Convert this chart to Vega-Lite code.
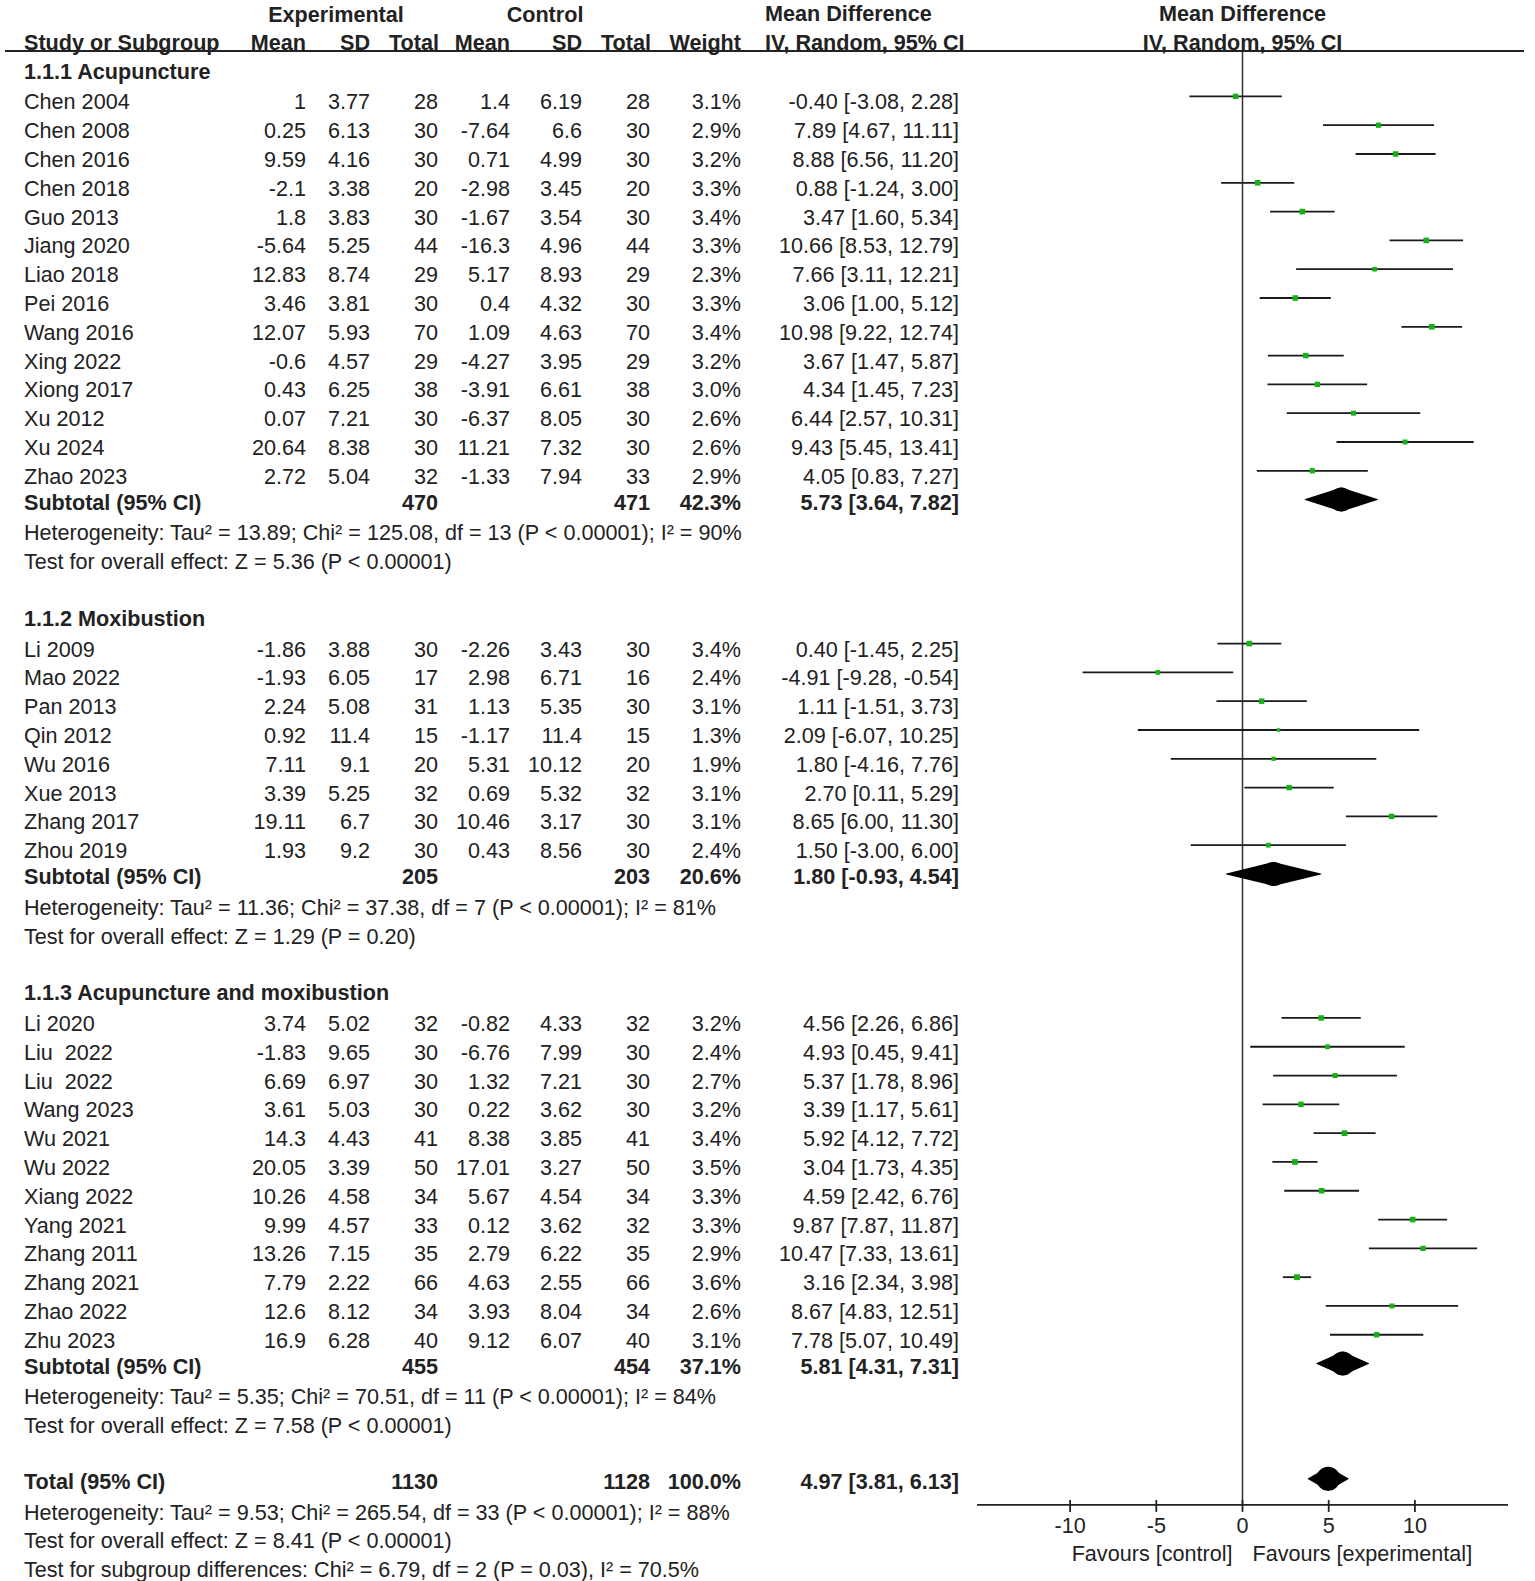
{
"$schema": "https://vega.github.io/schema/vega-lite/v6.json",
"width": 1535, "height": 1581, "padding": 0, "autosize": {"type": "none"}, "background": "white",
"config": {"view": {"stroke": null}, "text": {"font": "Liberation Sans", "fontSize": 21.6, "color": "#222", "baseline": "middle"}},
"datasets": {
"studies": [
{"study":"Chen 2004","row":1,"em":1,"esd":3.77,"et":28,"cm":1.4,"csd":6.19,"ct":28,"wt":0.031,"md":-0.4,"lo":-3.08,"hi":2.28,"ci":"-0.40 [-3.08, 2.28]"},
{"study":"Chen 2008","row":2,"em":0.25,"esd":6.13,"et":30,"cm":-7.64,"csd":6.6,"ct":30,"wt":0.029,"md":7.89,"lo":4.67,"hi":11.11,"ci":"7.89 [4.67, 11.11]"},
{"study":"Chen 2016","row":3,"em":9.59,"esd":4.16,"et":30,"cm":0.71,"csd":4.99,"ct":30,"wt":0.032,"md":8.88,"lo":6.56,"hi":11.2,"ci":"8.88 [6.56, 11.20]"},
{"study":"Chen 2018","row":4,"em":-2.1,"esd":3.38,"et":20,"cm":-2.98,"csd":3.45,"ct":20,"wt":0.033,"md":0.88,"lo":-1.24,"hi":3.0,"ci":"0.88 [-1.24, 3.00]"},
{"study":"Guo 2013","row":5,"em":1.8,"esd":3.83,"et":30,"cm":-1.67,"csd":3.54,"ct":30,"wt":0.034,"md":3.47,"lo":1.6,"hi":5.34,"ci":"3.47 [1.60, 5.34]"},
{"study":"Jiang 2020","row":6,"em":-5.64,"esd":5.25,"et":44,"cm":-16.3,"csd":4.96,"ct":44,"wt":0.033,"md":10.66,"lo":8.53,"hi":12.79,"ci":"10.66 [8.53, 12.79]"},
{"study":"Liao 2018","row":7,"em":12.83,"esd":8.74,"et":29,"cm":5.17,"csd":8.93,"ct":29,"wt":0.023,"md":7.66,"lo":3.11,"hi":12.21,"ci":"7.66 [3.11, 12.21]"},
{"study":"Pei 2016","row":8,"em":3.46,"esd":3.81,"et":30,"cm":0.4,"csd":4.32,"ct":30,"wt":0.033,"md":3.06,"lo":1.0,"hi":5.12,"ci":"3.06 [1.00, 5.12]"},
{"study":"Wang 2016","row":9,"em":12.07,"esd":5.93,"et":70,"cm":1.09,"csd":4.63,"ct":70,"wt":0.034,"md":10.98,"lo":9.22,"hi":12.74,"ci":"10.98 [9.22, 12.74]"},
{"study":"Xing 2022","row":10,"em":-0.6,"esd":4.57,"et":29,"cm":-4.27,"csd":3.95,"ct":29,"wt":0.032,"md":3.67,"lo":1.47,"hi":5.87,"ci":"3.67 [1.47, 5.87]"},
{"study":"Xiong 2017","row":11,"em":0.43,"esd":6.25,"et":38,"cm":-3.91,"csd":6.61,"ct":38,"wt":0.030,"md":4.34,"lo":1.45,"hi":7.23,"ci":"4.34 [1.45, 7.23]"},
{"study":"Xu 2012","row":12,"em":0.07,"esd":7.21,"et":30,"cm":-6.37,"csd":8.05,"ct":30,"wt":0.026,"md":6.44,"lo":2.57,"hi":10.31,"ci":"6.44 [2.57, 10.31]"},
{"study":"Xu 2024","row":13,"em":20.64,"esd":8.38,"et":30,"cm":11.21,"csd":7.32,"ct":30,"wt":0.026,"md":9.43,"lo":5.45,"hi":13.41,"ci":"9.43 [5.45, 13.41]"},
{"study":"Zhao 2023","row":14,"em":2.72,"esd":5.04,"et":32,"cm":-1.33,"csd":7.94,"ct":33,"wt":0.029,"md":4.05,"lo":0.83,"hi":7.27,"ci":"4.05 [0.83, 7.27]"},
{"study":"Li 2009","row":20,"em":-1.86,"esd":3.88,"et":30,"cm":-2.26,"csd":3.43,"ct":30,"wt":0.034,"md":0.4,"lo":-1.45,"hi":2.25,"ci":"0.40 [-1.45, 2.25]"},
{"study":"Mao 2022","row":21,"em":-1.93,"esd":6.05,"et":17,"cm":2.98,"csd":6.71,"ct":16,"wt":0.024,"md":-4.91,"lo":-9.28,"hi":-0.54,"ci":"-4.91 [-9.28, -0.54]"},
{"study":"Pan 2013","row":22,"em":2.24,"esd":5.08,"et":31,"cm":1.13,"csd":5.35,"ct":30,"wt":0.031,"md":1.11,"lo":-1.51,"hi":3.73,"ci":"1.11 [-1.51, 3.73]"},
{"study":"Qin 2012","row":23,"em":0.92,"esd":11.4,"et":15,"cm":-1.17,"csd":11.4,"ct":15,"wt":0.013,"md":2.09,"lo":-6.07,"hi":10.25,"ci":"2.09 [-6.07, 10.25]"},
{"study":"Wu 2016","row":24,"em":7.11,"esd":9.1,"et":20,"cm":5.31,"csd":10.12,"ct":20,"wt":0.019,"md":1.8,"lo":-4.16,"hi":7.76,"ci":"1.80 [-4.16, 7.76]"},
{"study":"Xue 2013","row":25,"em":3.39,"esd":5.25,"et":32,"cm":0.69,"csd":5.32,"ct":32,"wt":0.031,"md":2.7,"lo":0.11,"hi":5.29,"ci":"2.70 [0.11, 5.29]"},
{"study":"Zhang 2017","row":26,"em":19.11,"esd":6.7,"et":30,"cm":10.46,"csd":3.17,"ct":30,"wt":0.031,"md":8.65,"lo":6.0,"hi":11.3,"ci":"8.65 [6.00, 11.30]"},
{"study":"Zhou 2019","row":27,"em":1.93,"esd":9.2,"et":30,"cm":0.43,"csd":8.56,"ct":30,"wt":0.024,"md":1.5,"lo":-3.0,"hi":6.0,"ci":"1.50 [-3.00, 6.00]"},
{"study":"Li 2020","row":33,"em":3.74,"esd":5.02,"et":32,"cm":-0.82,"csd":4.33,"ct":32,"wt":0.032,"md":4.56,"lo":2.26,"hi":6.86,"ci":"4.56 [2.26, 6.86]"},
{"study":"Liu \u00a02022","row":34,"em":-1.83,"esd":9.65,"et":30,"cm":-6.76,"csd":7.99,"ct":30,"wt":0.024,"md":4.93,"lo":0.45,"hi":9.41,"ci":"4.93 [0.45, 9.41]"},
{"study":"Liu \u00a02022","row":35,"em":6.69,"esd":6.97,"et":30,"cm":1.32,"csd":7.21,"ct":30,"wt":0.027,"md":5.37,"lo":1.78,"hi":8.96,"ci":"5.37 [1.78, 8.96]"},
{"study":"Wang 2023","row":36,"em":3.61,"esd":5.03,"et":30,"cm":0.22,"csd":3.62,"ct":30,"wt":0.032,"md":3.39,"lo":1.17,"hi":5.61,"ci":"3.39 [1.17, 5.61]"},
{"study":"Wu 2021","row":37,"em":14.3,"esd":4.43,"et":41,"cm":8.38,"csd":3.85,"ct":41,"wt":0.034,"md":5.92,"lo":4.12,"hi":7.72,"ci":"5.92 [4.12, 7.72]"},
{"study":"Wu 2022","row":38,"em":20.05,"esd":3.39,"et":50,"cm":17.01,"csd":3.27,"ct":50,"wt":0.035,"md":3.04,"lo":1.73,"hi":4.35,"ci":"3.04 [1.73, 4.35]"},
{"study":"Xiang 2022","row":39,"em":10.26,"esd":4.58,"et":34,"cm":5.67,"csd":4.54,"ct":34,"wt":0.033,"md":4.59,"lo":2.42,"hi":6.76,"ci":"4.59 [2.42, 6.76]"},
{"study":"Yang 2021","row":40,"em":9.99,"esd":4.57,"et":33,"cm":0.12,"csd":3.62,"ct":32,"wt":0.033,"md":9.87,"lo":7.87,"hi":11.87,"ci":"9.87 [7.87, 11.87]"},
{"study":"Zhang 2011","row":41,"em":13.26,"esd":7.15,"et":35,"cm":2.79,"csd":6.22,"ct":35,"wt":0.029,"md":10.47,"lo":7.33,"hi":13.61,"ci":"10.47 [7.33, 13.61]"},
{"study":"Zhang 2021","row":42,"em":7.79,"esd":2.22,"et":66,"cm":4.63,"csd":2.55,"ct":66,"wt":0.036,"md":3.16,"lo":2.34,"hi":3.98,"ci":"3.16 [2.34, 3.98]"},
{"study":"Zhao 2022","row":43,"em":12.6,"esd":8.12,"et":34,"cm":3.93,"csd":8.04,"ct":34,"wt":0.026,"md":8.67,"lo":4.83,"hi":12.51,"ci":"8.67 [4.83, 12.51]"},
{"study":"Zhu 2023","row":44,"em":16.9,"esd":6.28,"et":40,"cm":9.12,"csd":6.07,"ct":40,"wt":0.031,"md":7.78,"lo":5.07,"hi":10.49,"ci":"7.78 [5.07, 10.49]"}
],
"subs": [
{"t":"Subtotal (95% CI)","row":15,"et":470,"ct":471,"wt":0.423,"md":5.73,"lo":3.64,"hi":7.82,"ci":"5.73 [3.64, 7.82]"},
{"t":"Subtotal (95% CI)","row":28,"et":205,"ct":203,"wt":0.206,"md":1.8,"lo":-0.93,"hi":4.54,"ci":"1.80 [-0.93, 4.54]"},
{"t":"Subtotal (95% CI)","row":45,"et":455,"ct":454,"wt":0.371,"md":5.81,"lo":4.31,"hi":7.31,"ci":"5.81 [4.31, 7.31]"},
{"t":"Total (95% CI)","row":49,"et":1130,"ct":1128,"wt":1.0,"md":4.97,"lo":3.81,"hi":6.13,"ci":"4.97 [3.81, 6.13]"}
],
"notes": [
{"t":"Heterogeneity: Tau² = 13.89; Chi² = 125.08, df = 13 (P < 0.00001); I² = 90%","row":16},
{"t":"Test for overall effect: Z = 5.36 (P < 0.00001)","row":17},
{"t":"Heterogeneity: Tau² = 11.36; Chi² = 37.38, df = 7 (P < 0.00001); I² = 81%","row":29},
{"t":"Test for overall effect: Z = 1.29 (P = 0.20)","row":30},
{"t":"Heterogeneity: Tau² = 5.35; Chi² = 70.51, df = 11 (P < 0.00001); I² = 84%","row":46},
{"t":"Test for overall effect: Z = 7.58 (P < 0.00001)","row":47},
{"t":"Heterogeneity: Tau² = 9.53; Chi² = 265.54, df = 33 (P < 0.00001); I² = 88%","row":50},
{"t":"Test for overall effect: Z = 8.41 (P < 0.00001)","row":51},
{"t":"Test for subgroup differences: Chi² = 6.79, df = 2 (P = 0.03), I² = 70.5%","row":52}
],
"heads": [
{"t":"Study or Subgroup","row":-1},
{"t":"1.1.1 Acupuncture","row":0},
{"t":"1.1.2 Moxibustion","row":19},
{"t":"1.1.3 Acupuncture and moxibustion","row":32}
],
"hdr": [{"row":-1,"em":"Mean","esd":"SD","et":"Total","cm":"Mean","csd":"SD","ct":"Total","w":"Weight"}],
"grp": [{"row":-2,"a":"Experimental","b":"Control"}],
"mdh": [{"row":-2,"t":"Mean Difference"},{"row":-1,"t":"IV, Random, 95% CI"}],
"tk": [{"tv":-10,"row":0},{"tv":-5,"row":0},{"tv":0,"row":0},{"tv":5,"row":0},{"tv":10,"row":0}],
"one": [{"row":0}]
},
"encoding": {"y": {"field": "row", "type": "quantitative", "scale": {"domain": [-2.347, 52.55], "reverse": true}, "axis": null}},
"resolve": {"scale": {"x": "independent"}},
"layer": [
{
"layer": [
{"data":{"name":"one"},"mark":{"type":"rule","strokeWidth":2,"color":"#222"},"encoding":{"x":{"datum":5,"type":"quantitative","scale":{"domain":[0,1535],"range":[0,1535]},"axis":null},"x2":{"datum":1524},"y":{"datum":-0.576}}},
{"data":{"name":"grp"},"mark":{"type":"text","align":"center","fontWeight":"bold","dy":6},"encoding":{"x":{"datum":336,"type":"quantitative","scale":{"domain":[0,1535],"range":[0,1535]},"axis":null},"text":{"field":"a","type":"nominal"}}},
{"data":{"name":"grp"},"mark":{"type":"text","align":"center","fontWeight":"bold","dy":6},"encoding":{"x":{"datum":545,"type":"quantitative","scale":{"domain":[0,1535],"range":[0,1535]},"axis":null},"text":{"field":"b","type":"nominal"}}},
{"data":{"name":"mdh"},"mark":{"type":"text","align":"left","fontWeight":"bold","dy":5},"encoding":{"x":{"datum":765,"type":"quantitative","scale":{"domain":[0,1535],"range":[0,1535]},"axis":null},"text":{"field":"t","type":"nominal"}}},
{"data":{"name":"heads"},"mark":{"type":"text","align":"left","fontWeight":"bold","dy":5},"encoding":{"x":{"datum":24,"type":"quantitative","scale":{"domain":[0,1535],"range":[0,1535]},"axis":null},"text":{"field":"t","type":"nominal"}}},
{"data":{"name":"hdr"},"mark":{"type":"text","align":"right","fontWeight":"bold","dy":5},"encoding":{"x":{"datum":306,"type":"quantitative","scale":{"domain":[0,1535],"range":[0,1535]},"axis":null},"text":{"field":"em","type":"nominal"}}},
{"data":{"name":"hdr"},"mark":{"type":"text","align":"right","fontWeight":"bold","dy":5},"encoding":{"x":{"datum":370,"type":"quantitative","scale":{"domain":[0,1535],"range":[0,1535]},"axis":null},"text":{"field":"esd","type":"nominal"}}},
{"data":{"name":"hdr"},"mark":{"type":"text","align":"right","fontWeight":"bold","dy":5},"encoding":{"x":{"datum":439,"type":"quantitative","scale":{"domain":[0,1535],"range":[0,1535]},"axis":null},"text":{"field":"et","type":"nominal"}}},
{"data":{"name":"hdr"},"mark":{"type":"text","align":"right","fontWeight":"bold","dy":5},"encoding":{"x":{"datum":510,"type":"quantitative","scale":{"domain":[0,1535],"range":[0,1535]},"axis":null},"text":{"field":"cm","type":"nominal"}}},
{"data":{"name":"hdr"},"mark":{"type":"text","align":"right","fontWeight":"bold","dy":5},"encoding":{"x":{"datum":582,"type":"quantitative","scale":{"domain":[0,1535],"range":[0,1535]},"axis":null},"text":{"field":"csd","type":"nominal"}}},
{"data":{"name":"hdr"},"mark":{"type":"text","align":"right","fontWeight":"bold","dy":5},"encoding":{"x":{"datum":651,"type":"quantitative","scale":{"domain":[0,1535],"range":[0,1535]},"axis":null},"text":{"field":"ct","type":"nominal"}}},
{"data":{"name":"hdr"},"mark":{"type":"text","align":"right","fontWeight":"bold","dy":5},"encoding":{"x":{"datum":741,"type":"quantitative","scale":{"domain":[0,1535],"range":[0,1535]},"axis":null},"text":{"field":"w","type":"nominal"}}},
{"data":{"name":"studies"},"mark":{"type":"text","align":"left","dy":7},"encoding":{"x":{"datum":24,"type":"quantitative","scale":{"domain":[0,1535],"range":[0,1535]},"axis":null},"text":{"field":"study","type":"nominal"}}},
{"data":{"name":"studies"},"mark":{"type":"text","align":"right","dy":7},"encoding":{"x":{"datum":306,"type":"quantitative","scale":{"domain":[0,1535],"range":[0,1535]},"axis":null},"text":{"field":"em","type":"nominal"}}},
{"data":{"name":"studies"},"mark":{"type":"text","align":"right","dy":7},"encoding":{"x":{"datum":370,"type":"quantitative","scale":{"domain":[0,1535],"range":[0,1535]},"axis":null},"text":{"field":"esd","type":"nominal"}}},
{"data":{"name":"studies"},"mark":{"type":"text","align":"right","dy":7},"encoding":{"x":{"datum":438,"type":"quantitative","scale":{"domain":[0,1535],"range":[0,1535]},"axis":null},"text":{"field":"et","type":"nominal"}}},
{"data":{"name":"studies"},"mark":{"type":"text","align":"right","dy":7},"encoding":{"x":{"datum":510,"type":"quantitative","scale":{"domain":[0,1535],"range":[0,1535]},"axis":null},"text":{"field":"cm","type":"nominal"}}},
{"data":{"name":"studies"},"mark":{"type":"text","align":"right","dy":7},"encoding":{"x":{"datum":582,"type":"quantitative","scale":{"domain":[0,1535],"range":[0,1535]},"axis":null},"text":{"field":"csd","type":"nominal"}}},
{"data":{"name":"studies"},"mark":{"type":"text","align":"right","dy":7},"encoding":{"x":{"datum":650,"type":"quantitative","scale":{"domain":[0,1535],"range":[0,1535]},"axis":null},"text":{"field":"ct","type":"nominal"}}},
{"data":{"name":"studies"},"mark":{"type":"text","align":"right","dy":7},"encoding":{"x":{"datum":741,"type":"quantitative","scale":{"domain":[0,1535],"range":[0,1535]},"axis":null},"text":{"field":"wt","type":"quantitative","format":".1%"}}},
{"data":{"name":"studies"},"mark":{"type":"text","align":"right","dy":7},"encoding":{"x":{"datum":959,"type":"quantitative","scale":{"domain":[0,1535],"range":[0,1535]},"axis":null},"text":{"field":"ci","type":"nominal"}}},
{"data":{"name":"notes"},"mark":{"type":"text","align":"left","dy":6},"encoding":{"x":{"datum":24,"type":"quantitative","scale":{"domain":[0,1535],"range":[0,1535]},"axis":null},"text":{"field":"t","type":"nominal"}}},
{"data":{"name":"subs"},"mark":{"type":"text","align":"left","fontWeight":"bold","dy":4},"encoding":{"x":{"datum":24,"type":"quantitative","scale":{"domain":[0,1535],"range":[0,1535]},"axis":null},"text":{"field":"t","type":"nominal"}}},
{"data":{"name":"subs"},"mark":{"type":"text","align":"right","fontWeight":"bold","dy":4},"encoding":{"x":{"datum":438,"type":"quantitative","scale":{"domain":[0,1535],"range":[0,1535]},"axis":null},"text":{"field":"et","type":"nominal"}}},
{"data":{"name":"subs"},"mark":{"type":"text","align":"right","fontWeight":"bold","dy":4},"encoding":{"x":{"datum":650,"type":"quantitative","scale":{"domain":[0,1535],"range":[0,1535]},"axis":null},"text":{"field":"ct","type":"nominal"}}},
{"data":{"name":"subs"},"mark":{"type":"text","align":"right","fontWeight":"bold","dy":4},"encoding":{"x":{"datum":741,"type":"quantitative","scale":{"domain":[0,1535],"range":[0,1535]},"axis":null},"text":{"field":"wt","type":"quantitative","format":".1%"}}},
{"data":{"name":"subs"},"mark":{"type":"text","align":"right","fontWeight":"bold","dy":4},"encoding":{"x":{"datum":959,"type":"quantitative","scale":{"domain":[0,1535],"range":[0,1535]},"axis":null},"text":{"field":"ci","type":"nominal"}}}
]
},
{
"resolve": {"scale": {"size": "independent"}},
"layer": [
{"data":{"name":"one"},"mark":{"type":"rule","strokeWidth":1.5,"color":"#333"},"encoding":{"x":{"datum":0,"type":"quantitative","scale":{"domain":[-15.4,15.4],"range":[977,1508]},"axis":null},"y":{"datum":-0.576},"y2":{"datum":49.91}}},
{"data":{"name":"one"},"mark":{"type":"rule","strokeWidth":1.8,"color":"#222"},"encoding":{"x":{"datum":-15.4,"type":"quantitative","scale":{"domain":[-15.4,15.4],"range":[977,1508]},"axis":null},"x2":{"datum":15.4},"y":{"datum":49.91}}},
{"data":{"name":"tk"},"mark":{"type":"rule","strokeWidth":1.8,"color":"#222"},"encoding":{"x":{"field":"tv","type":"quantitative","scale":{"domain":[-15.4,15.4],"range":[977,1508]},"axis":null},"y":{"datum":49.74},"y2":{"datum":50.15}}},
{"data":{"name":"tk"},"mark":{"type":"text","align":"center"},"encoding":{"x":{"field":"tv","type":"quantitative","scale":{"domain":[-15.4,15.4],"range":[977,1508]},"axis":null},"y":{"datum":50.67},"text":{"field":"tv","type":"nominal"}}},
{"data":{"name":"studies"},"mark":{"type":"rule","strokeWidth":1.8,"color":"#1a1a1a"},"encoding":{"x":{"field":"lo","type":"quantitative","scale":{"domain":[-15.4,15.4],"range":[977,1508]},"axis":null},"x2":{"field":"hi"}}},
{"data":{"name":"studies"},"mark":{"type":"point","shape":"square","filled":true,"opacity":1,"color":"#17b017"},"encoding":{"x":{"field":"md","type":"quantitative","scale":{"domain":[-15.4,15.4],"range":[977,1508]},"axis":null},"size":{"field":"wt","type":"quantitative","scale":{"domain":[0,0.036],"range":[0,34]},"legend":null}}},
{"data":{"name":"subs"},"transform":[{"fold":["lo","md"],"as":["k","v"]}],"mark":{"type":"trail","color":"#000"},"encoding":{"x":{"field":"v","type":"quantitative","scale":{"domain":[-15.4,15.4],"range":[977,1508]},"axis":null},"detail":{"field":"row","type":"nominal"},"size":{"field":"k","type":"ordinal","scale":{"type":"point","domain":["lo","md"],"range":[0,24],"padding":0},"legend":null}}},
{"data":{"name":"subs"},"transform":[{"fold":["hi","md"],"as":["k","v"]}],"mark":{"type":"trail","color":"#000"},"encoding":{"x":{"field":"v","type":"quantitative","scale":{"domain":[-15.4,15.4],"range":[977,1508]},"axis":null},"detail":{"field":"row","type":"nominal"},"size":{"field":"k","type":"ordinal","scale":{"type":"point","domain":["hi","md"],"range":[0,24],"padding":0},"legend":null}}},
{"data":{"name":"mdh"},"mark":{"type":"text","align":"center","fontWeight":"bold","dy":5},"encoding":{"x":{"datum":0,"type":"quantitative","scale":{"domain":[-15.4,15.4],"range":[977,1508]},"axis":null},"text":{"field":"t","type":"nominal"}}},
{"data":{"name":"one"},"mark":{"type":"text","align":"right"},"encoding":{"x":{"datum":-0.58,"type":"quantitative","scale":{"domain":[-15.4,15.4],"range":[977,1508]},"axis":null},"y":{"datum":51.65},"text":{"value":"Favours [control]"}}},
{"data":{"name":"one"},"mark":{"type":"text","align":"left"},"encoding":{"x":{"datum":0.58,"type":"quantitative","scale":{"domain":[-15.4,15.4],"range":[977,1508]},"axis":null},"y":{"datum":51.65},"text":{"value":"Favours [experimental]"}}}
]
}
]
}
